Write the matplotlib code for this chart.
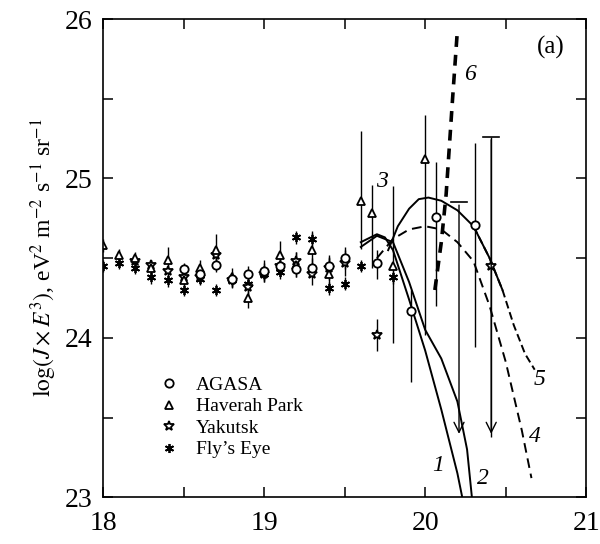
import matplotlib.pyplot as plt
from matplotlib import ticker
from matplotlib.lines import Line2D
import numpy as np

plt.rcParams['font.family'] = ['Liberation Serif', 'DejaVu Serif']
plt.rcParams['mathtext.fontset'] = 'stix'

# --- measurements (log E, log(J E^3)) ---
agasa_x = [18.5, 18.6, 18.7, 18.8, 18.9, 19.0, 19.1, 19.2, 19.3, 19.4, 19.5, 19.7, 19.91, 20.07, 20.31]
agasa_y = [24.43, 24.40, 24.46, 24.37, 24.40, 24.42, 24.45, 24.43, 24.44, 24.45, 24.50, 24.47, 24.17, 24.76, 24.71]
agasa_lo = [0.04, 0.04, 0.05, 0.04, 0.05, 0.05, 0.05, 0.05, 0.06, 0.06, 0.07, 0.10, 0.45, 0.56, 0.77]
agasa_hi = [0.04, 0.04, 0.05, 0.04, 0.05, 0.05, 0.05, 0.05, 0.06, 0.06, 0.07, 0.08, 0.13, 0.34, 0.51]

haverah_x = [18.0, 18.1, 18.2, 18.3, 18.4, 18.5, 18.6, 18.7, 18.8, 18.9, 19.0, 19.1, 19.2, 19.3, 19.4, 19.6, 19.67, 19.8, 20.0]
haverah_y = [24.58, 24.52, 24.50, 24.44, 24.49, 24.36, 24.44, 24.55, 24.38, 24.25, 24.42, 24.52, 24.46, 24.55, 24.40, 24.86, 24.78, 24.45, 25.12]
haverah_lo = [0.04, 0.04, 0.04, 0.05, 0.05, 0.05, 0.05, 0.06, 0.06, 0.06, 0.07, 0.07, 0.08, 0.09, 0.10, 0.30, 0.34, 0.48, 1.10]
haverah_hi = [0.04, 0.04, 0.04, 0.05, 0.08, 0.05, 0.05, 0.10, 0.06, 0.06, 0.07, 0.09, 0.08, 0.12, 0.10, 0.44, 0.18, 0.50, 0.28]

yakutsk_x = [18.2, 18.3, 18.4, 18.5, 18.6, 18.7, 18.8, 18.9, 19.0, 19.1, 19.2, 19.3, 19.4, 19.5, 19.7, 20.41]
yakutsk_y = [24.48, 24.46, 24.42, 24.38, 24.38, 24.52, 24.36, 24.32, 24.40, 24.45, 24.48, 24.40, 24.44, 24.47, 24.02, 24.45]
yakutsk_lo = [0.03, 0.03, 0.04, 0.04, 0.04, 0.05, 0.05, 0.05, 0.05, 0.06, 0.06, 0.07, 0.08, 0.08, 0.10, 1.07]
yakutsk_hi = [0.03, 0.03, 0.04, 0.04, 0.04, 0.05, 0.05, 0.05, 0.05, 0.06, 0.06, 0.07, 0.08, 0.08, 0.10, 0.81]

flyseye_x = [18.0, 18.1, 18.2, 18.3, 18.4, 18.5, 18.6, 18.7, 18.8, 18.9, 19.0, 19.1, 19.2, 19.3, 19.4, 19.5, 19.6, 19.8]
flyseye_y = [24.45, 24.47, 24.44, 24.38, 24.36, 24.30, 24.37, 24.30, 24.36, 24.34, 24.40, 24.41, 24.63, 24.62, 24.31, 24.34, 24.45, 24.38]

# upper limits (x, top of bar, arrow tip)
limit_x = [20.21, 20.41]
limit_top = [24.85, 25.26]
limit_tip = [23.38, 23.38]

# --- model curves ---
c1_x = [19.6, 19.7, 19.75, 19.8, 19.9, 20.0, 20.1, 20.2, 20.23]
c1_y = [24.6, 24.65, 24.63, 24.55, 24.24, 23.92, 23.55, 23.15, 23.0]
c2_x = [19.6, 19.7, 19.8, 19.9, 20.0, 20.1, 20.2, 20.26, 20.29]
c2_y = [24.57, 24.64, 24.6, 24.35, 24.05, 23.87, 23.6, 23.3, 23.0]
c3_x = [19.77, 19.83, 19.9, 19.96, 20.02, 20.1, 20.2, 20.3, 20.4, 20.48]
c3_y = [24.55, 24.7, 24.81, 24.87, 24.88, 24.86, 24.8, 24.7, 24.5, 24.3]
c4_x = [19.7, 19.8, 19.9, 20.0, 20.1, 20.2, 20.3, 20.4, 20.5, 20.6, 20.66]
c4_y = [24.5, 24.62, 24.68, 24.7, 24.68, 24.6, 24.48, 24.2, 23.85, 23.42, 23.12]
c5_x = [20.3, 20.4, 20.48, 20.55, 20.62, 20.68]
c5_y = [24.7, 24.5, 24.3, 24.08, 23.9, 23.8]
c6_x = [20.06, 20.1, 20.13, 20.15, 20.17, 20.2]
c6_y = [24.3, 24.6, 24.9, 25.2, 25.5, 25.93]

fig = plt.figure(figsize=(6.0, 5.44), dpi=100)
ax = fig.add_axes([0.172, 0.086, 0.805, 0.879])

ebkw = dict(color='black', ecolor='black', elinewidth=1.0, capsize=0, linestyle='none',
            markerfacecolor='white', markeredgecolor='black', markeredgewidth=1.3)
fe_marker = dict(marker=(6, 2, 0), markersize=6.5)
yk_marker = dict(marker='*', markersize=7.5)
hp_marker = dict(marker='^', markersize=5.5)
ag_marker = dict(marker='o', markersize=6)
ax.errorbar(flyseye_x, flyseye_y, yerr=0.04, **fe_marker, **ebkw)
ax.errorbar(yakutsk_x, yakutsk_y, yerr=[yakutsk_lo, yakutsk_hi], **yk_marker, **ebkw)
ax.errorbar(haverah_x, haverah_y, yerr=[haverah_lo, haverah_hi], **hp_marker, **ebkw)
ax.errorbar(agasa_x, agasa_y, yerr=[agasa_lo, agasa_hi], **ag_marker, **ebkw)

for x, top, tip in zip(limit_x, limit_top, limit_tip):
    ax.plot([x - 0.05, x + 0.05], [top, top], color='black', lw=1.2)
    ax.annotate('', xy=(x, tip), xytext=(x, top),
                arrowprops=dict(arrowstyle='->', color='black', lw=1.0, mutation_scale=18))

ax.plot(c1_x, c1_y, color='black', lw=1.4)
ax.plot(c2_x, c2_y, color='black', lw=1.4)
ax.plot(c3_x, c3_y, color='black', lw=1.4)
ax.plot(c4_x, c4_y, color='black', lw=1.4, dashes=(5, 3))
ax.plot(c5_x, c5_y, color='black', lw=1.4, dashes=(4, 2))
ax.plot(c6_x, c6_y, color='black', lw=2.6, dashes=(3, 2.2))

lab = dict(fontsize=17, style='italic', color='black')
ax.text(20.08, 23.2, '1', ha='center', va='center', **lab)
ax.text(20.36, 23.12, '2', ha='center', va='center', **lab)
ax.text(19.73, 24.98, '3', ha='center', va='center', **lab)
ax.text(20.68, 23.38, '4', ha='center', va='center', **lab)
ax.text(20.71, 23.74, '5', ha='center', va='center', **lab)
ax.text(20.28, 25.65, '6', ha='center', va='center', **lab)
ax.text(0.955, 0.94, '(a)', transform=ax.transAxes, ha='right', va='center', fontsize=18)

proxies = []
for mk in (ag_marker, hp_marker, yk_marker, fe_marker):
    proxies.append(Line2D([], [], linestyle='none', color='black', markerfacecolor='white',
                          markeredgecolor='black', markeredgewidth=1.3, **mk))
ax.legend(proxies, ['AGASA', 'Haverah Park', 'Yakutsk', "Fly\u2019s Eye"],
          loc='lower left', bbox_to_anchor=(0.1, 0.065),
          frameon=False, fontsize=14, handlelength=1.0, handletextpad=0.9,
          labelspacing=0.2, borderaxespad=0)

ax.set_xlim(18, 21)
ax.set_ylim(23, 26)
ax.xaxis.set_major_locator(ticker.MultipleLocator(1))
ax.yaxis.set_major_locator(ticker.MultipleLocator(1))
ax.xaxis.set_minor_locator(ticker.MultipleLocator(0.5))
ax.yaxis.set_minor_locator(ticker.MultipleLocator(0.5))
ax.tick_params(which='both', direction='in', top=True, right=True, length=7, width=1.1,
               labelsize=20)
ax.tick_params(axis='x', pad=10)
ax.tick_params(axis='y', pad=8)
for s in ax.spines.values():
    s.set_linewidth(1.2)

ax.set_ylabel(r'$\log(J \times E^3)$, eV$^2$ m$^{-2}$ s$^{-1}$ sr$^{-1}$', fontsize=17, labelpad=4)

plt.savefig('out.png', dpi=100)
